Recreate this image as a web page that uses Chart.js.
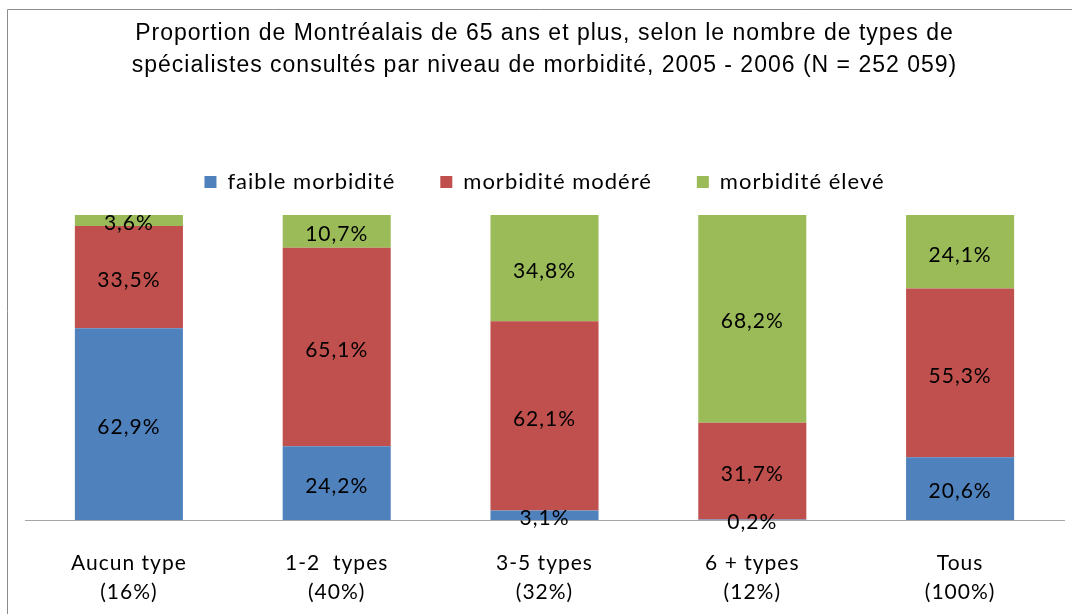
<!DOCTYPE html>
<html>
<head>
<meta charset="utf-8">
<script src="https://cdn.jsdelivr.net/npm/chart.js@4/dist/chart.umd.min.js"></script>
<style>
  html, body { margin: 0; padding: 0; background: #fff; }
  #wrap { width: 1072px; height: 614px; position: relative; }
</style>
</head>
<body>
<div id="wrap"><canvas id="c" width="1072" height="614"></canvas></div>
<script>
const titleLines = [
  'Proportion de Montréalais de 65 ans et plus, selon le nombre de types de',
  'spécialistes consultés par niveau de morbidité, 2005 - 2006 (N = 252 059)'
];
const categories = ['Aucun type', '1-2  types', '3-5 types', '6 + types', 'Tous'];
const categoryShares = ['(16%)', '(40%)', '(32%)', '(12%)', '(100%)'];
const seriesNames = ['faible morbidité', 'morbidité modéré', 'morbidité élevé'];
const faible = [62.9, 24.2, 3.1, 0.2, 20.6];
const modere = [33.5, 65.1, 62.1, 31.7, 55.3];
const eleve = [3.6, 10.7, 34.8, 68.2, 24.1];
const seriesColors = ['#4F81BD', '#C0504D', '#9BBB59'];

const labels = categories.map((c, i) => [c, categoryShares[i]]);

const spacingPlugin = {
  id: 'spacing',
  beforeUpdate(chart) { chart.ctx.letterSpacing = '1px'; },
  beforeDraw(chart) {
    const ctx = chart.ctx;
    ctx.letterSpacing = '1px';
    ctx.save();
    ctx.fillStyle = '#fff';
    ctx.fillRect(0, 0, chart.width, chart.height);
    ctx.strokeStyle = '#8c8c8c';
    ctx.lineWidth = 1;
    ctx.beginPath();
    ctx.moveTo(7.5, chart.height);
    ctx.lineTo(7.5, 9.5);
    ctx.lineTo(chart.width, 9.5);
    ctx.stroke();
    ctx.restore();
  }
};

const valueLabels = {
  id: 'valueLabels',
  afterDatasetsDraw(chart) {
    const ctx = chart.ctx;
    ctx.save();
    ctx.letterSpacing = '1px';
    ctx.font = '21px Lato';
    ctx.fillStyle = '#000';
    ctx.textAlign = 'center';
    ctx.textBaseline = 'middle';
    chart.data.datasets.forEach((ds, di) => {
      const meta = chart.getDatasetMeta(di);
      meta.data.forEach((el, i) => {
        const v = ds.data[i];
        const yc = (el.y + el.base) / 2 + 3;
        ctx.fillText(v.toFixed(1).replace('.', ',') + '%', el.x, yc);
      });
    });
    ctx.restore();
  }
};

new Chart(document.getElementById('c'), {
  type: 'bar',
  data: {
    labels: labels,
    datasets: [
      { label: seriesNames[0], data: faible, backgroundColor: seriesColors[0] },
      { label: seriesNames[1], data: modere, backgroundColor: seriesColors[1] },
      { label: seriesNames[2], data: eleve, backgroundColor: seriesColors[2] }
    ]
  },
  options: {
    responsive: false,
    animation: false,
    events: [],
    layout: { padding: { left: 25, right: 8, top: 0, bottom: -22 } },
    datasets: { bar: { categoryPercentage: 1, barPercentage: 0.52, borderWidth: 0 } },
    plugins: {
      title: {
        display: true,
        text: titleLines,
        color: '#000',
        font: { family: "'Liberation Sans', Arial, sans-serif", size: 23, weight: 'normal', lineHeight: 32 / 23 },
        padding: { top: 18, bottom: 44 }
      },
      legend: {
        display: true,
        position: 'top',
        labels: {
          boxWidth: 12,
          boxHeight: 12,
          padding: 45,
          color: '#000',
          font: { family: 'Lato, sans-serif', size: 22 }
        }
      },
      tooltip: { enabled: false }
    },
    scales: {
      x: {
        stacked: true,
        position: 'bottom',
        grid: { display: false, drawTicks: false },
        border: { display: true, color: '#a6a6a6', width: 1 },
        ticks: {
          color: '#000',
          padding: 29,
          maxRotation: 0,
          autoSkip: false,
          font: { family: 'Lato, sans-serif', size: 21, lineHeight: 29 / 21 }
        }
      },
      xTop: {
        type: 'category',
        position: 'top',
        display: true,
        grid: { display: true, drawOnChartArea: false, drawTicks: true, tickLength: 12, color: 'rgba(0,0,0,0)' },
        border: { display: false },
        ticks: { display: false }
      },
      y: {
        stacked: true,
        display: false,
        min: 0,
        max: 100
      }
    }
  },
  plugins: [spacingPlugin, valueLabels]
});
</script>
</body>
</html>
